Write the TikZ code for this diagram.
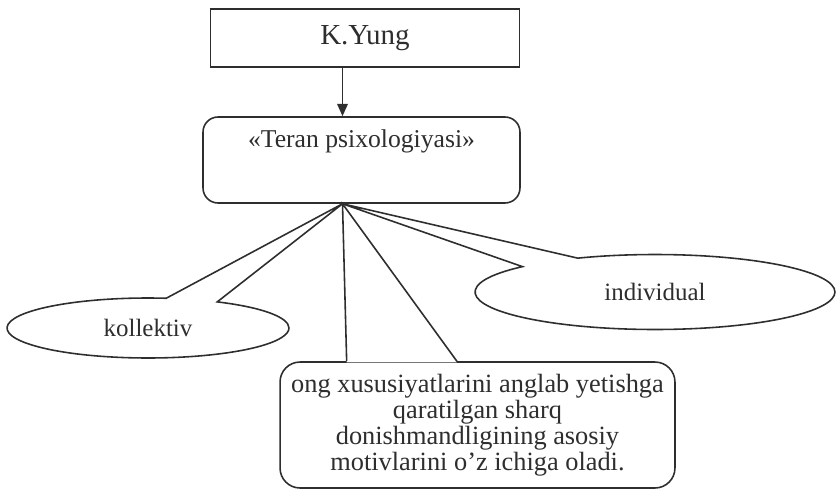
\documentclass[tikz,border=0pt]{standalone}
\usepackage{fontspec}
\setmainfont{Liberation Serif}
\usepackage{tikz}
\usetikzlibrary{arrows.meta,shapes.callouts,calc}

\begin{document}
\begin{tikzpicture}[x=0.02cm, y=-0.02cm, line width=0.9pt, black!82,
		box/.style={draw, fill=white, inner sep=0pt},
		bubble/.style={ellipse callout, draw, fill=white, inner sep=0pt, callout pointer arc=22, callout absolute pointer={(hub)}, font=\fontsize{14.2}{16}\selectfont}]
				\useasboundingbox (0,0) rectangle (837,497);
				\node[box, minimum width=6.18cm, minimum height=1.16cm, font=\fontsize{16.5}{18}\selectfont] (kyung) at (365,38) {K.Yung};
				\node[box, rounded corners=0.3cm, minimum width=6.34cm, minimum height=1.72cm, text height=17pt, text depth=31.8pt, font=\fontsize{14.6}{16}\selectfont] (teran) at (361.5,160) {«Teran psixologiyasi»};
				\coordinate (hub) at ($(teran.south)+(-19,0)$);
				\draw[-{Triangle[length=7pt,width=6pt]}] (kyung.south -| hub) -- (teran.north -| hub);
				\node[bubble, minimum width=5.64cm, minimum height=1.2cm] (kollektiv) at (148,328) {kollektiv};
				\node[bubble, minimum width=7.2cm, minimum height=1.5cm] (individual) at (655,292) {individual};
				\node[box, rounded corners=0.4cm, minimum width=7.9cm, minimum height=2.52cm, align=center, font=\fontsize{15}{14.8}\selectfont] (ong) at (477.5,425) {ong xususiyatlarini anglab yetishga\\qaratilgan sharq\\donishmandligining asosiy\\motivlarini o’z ichiga oladi.};
				\coordinate (ongL) at ($(ong.north west)!0.17!(ong.north east)$);
				\coordinate (ongR) at ($(ong.north west)!0.448!(ong.north east)$);
				\fill[white] ([yshift=-1pt]hub) -- ([yshift=-0.7pt]ongL) -- ([yshift=-0.7pt]ongR) -- cycle;
				\draw (ongL) -- (hub) -- (ongR);
		\end{tikzpicture}
\end{document}
